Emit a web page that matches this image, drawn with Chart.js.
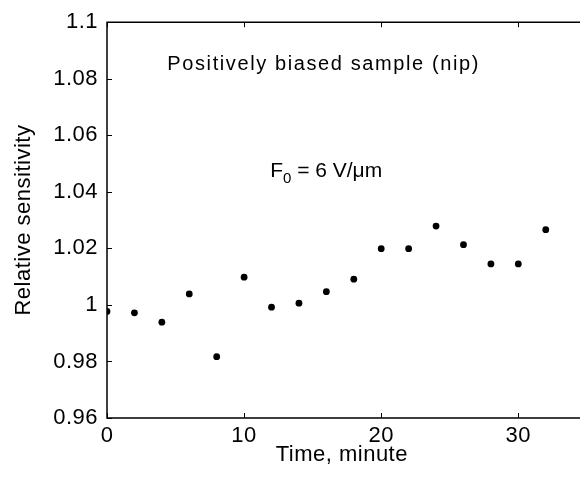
<!DOCTYPE html>
<html><head><meta charset="utf-8">
<script src="https://cdn.jsdelivr.net/npm/chart.js@4/dist/chart.umd.min.js"></script>
<style>html,body{margin:0;padding:0;background:#fff}#wrap{width:580px;height:480px}</style>
</head><body><div id="wrap"><canvas id="c" width="580" height="480"></canvas></div>
<script>
const time = [0, 2, 4, 6, 8, 10, 12, 14, 16, 18, 20, 22, 24, 26, 28, 30, 32];
const sensitivity = [0.9977, 0.9972, 0.9939, 1.0039, 0.9817, 1.0098, 0.9992, 1.0006, 1.0047, 1.0091, 1.0199, 1.0199, 1.0279, 1.0213, 1.0145, 1.0145, 1.0266];
const xTicks = [0, 10, 20, 30];
const yTicks = [0.96, 0.98, 1, 1.02, 1.04, 1.06, 1.08, 1.1];
const xRange = [0, 34.25];
const yRange = [0.96, 1.1];
const xLabel = 'Time, minute';
const yLabel = 'Relative sensitivity';
const note1 = 'Positively biased sample (nip)';
const note2 = ['F', '0', ' = 6 V/\u03bcm'];
const note1Pos = [15.8, 1.0852];
const note2Pos = [11.9, 1.0472];

const FONT = 'Liberation Sans, Arial, Helvetica, sans-serif';

const framePlugin = {
  id: 'frame',
  beforeDraw(chart) {
    chart.ctx.letterSpacing = '0.5px';
  },
  beforeDatasetsDraw(chart) {
    const {ctx, chartArea: a, scales: {x, y}} = chart;
    ctx.save();
    ctx.strokeStyle = '#000';
    ctx.lineWidth = 1.5;
    ctx.beginPath();
    ctx.moveTo(580, a.top); ctx.lineTo(a.left, a.top); ctx.lineTo(a.left, a.bottom); ctx.lineTo(580, a.bottom);
    ctx.stroke();
    ctx.lineWidth = 1;
    ctx.beginPath();
    xTicks.forEach(v => {
      const px = Math.round(x.getPixelForValue(v)) + 0.5;
      ctx.moveTo(px, a.bottom); ctx.lineTo(px, a.bottom - 5);
      ctx.moveTo(px, a.top); ctx.lineTo(px, a.top + 5);
    });
    yTicks.forEach(v => {
      const py = Math.round(y.getPixelForValue(v)) + 0.5;
      ctx.moveTo(a.left, py); ctx.lineTo(a.left + 5, py);
    });
    ctx.stroke();
    ctx.restore();
  },
  afterDraw(chart) {
    const {ctx, scales: {x, y}} = chart;
    ctx.save();
    ctx.fillStyle = '#000';
    ctx.textBaseline = 'middle';
    ctx.textAlign = 'center';
    ctx.font = '20px ' + FONT;
    ctx.letterSpacing = '1.6px';
    ctx.fillText(note1, x.getPixelForValue(note1Pos[0]), y.getPixelForValue(note1Pos[1]));
    ctx.letterSpacing = '0px';
    ctx.textAlign = 'left';
    let px = x.getPixelForValue(note2Pos[0]);
    const py = y.getPixelForValue(note2Pos[1]);
    ctx.font = '21px ' + FONT;
    ctx.fillText(note2[0], px, py);
    px += ctx.measureText(note2[0]).width;
    ctx.font = '15px ' + FONT;
    ctx.fillText(note2[1], px, py + 7);
    px += ctx.measureText(note2[1]).width;
    ctx.font = '21px ' + FONT;
    ctx.fillText(note2[2], px, py);
    ctx.restore();
  }
};

new Chart(document.getElementById('c'), {
  type: 'scatter',
  data: {
    datasets: [{
      data: time.map((t, i) => ({x: t, y: sensitivity[i]})),
      backgroundColor: '#000',
      borderColor: '#000',
      pointRadius: 3.4,
      pointHoverRadius: 3.4,
      borderWidth: 0
    }]
  },
  options: {
    responsive: false,
    devicePixelRatio: 1,
    animation: false,
    events: [],
    layout: {padding: {top: 20, right: 0, left: 0, bottom: 0}},
    plugins: {legend: {display: false}, tooltip: {enabled: false}},
    scales: {
      x: {
        type: 'linear', min: xRange[0], max: xRange[1],
        afterBuildTicks: s => { s.ticks = xTicks.map(v => ({value: v})); },
        afterFit: s => { s.height = 62; },
        grid: {display: false, drawTicks: false},
        border: {display: false},
        ticks: {color: '#000', font: {family: FONT, size: 22}, padding: 5, maxRotation: 0},
        title: {display: true, text: xLabel, color: '#000', font: {family: FONT, size: 22}, padding: {top: 0, bottom: 12}}
      },
      y: {
        type: 'linear', min: yRange[0], max: yRange[1],
        afterBuildTicks: s => { s.ticks = yTicks.map(v => ({value: v})); },
        afterFit: s => { s.width = 107; },
        grid: {display: false, drawTicks: false},
        border: {display: false},
        ticks: {color: '#000', font: {family: FONT, size: 22}, padding: 9,
          callback: v => String(+v.toFixed(2))},
        title: {display: true, text: yLabel, color: '#000', font: {family: FONT, size: 22}, padding: {top: 11, bottom: 0}}
      }
    }
  },
  plugins: [framePlugin]
});
</script></body></html>
